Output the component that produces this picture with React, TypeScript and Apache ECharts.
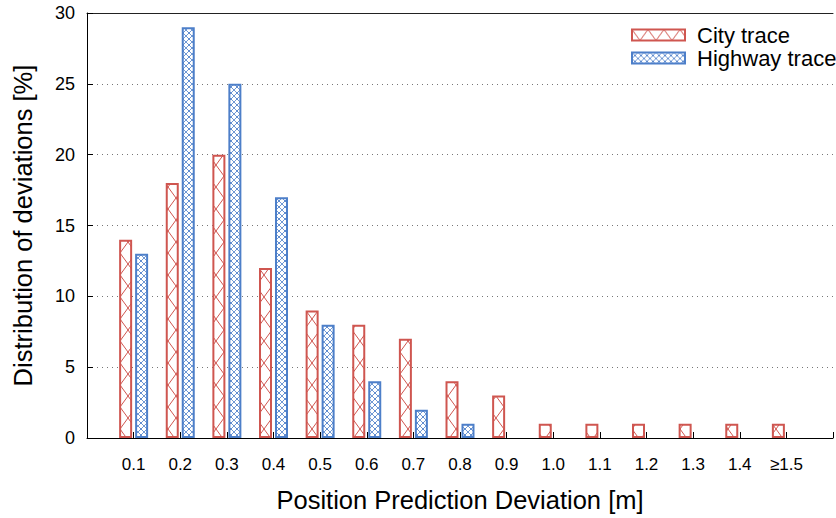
import React, { useEffect, useRef } from "react";
import * as echarts from "echarts";

const categories = ["0.1", "0.2", "0.3", "0.4", "0.5", "0.6", "0.7", "0.8", "0.9", "1.0", "1.1", "1.2", "1.3", "1.4", "≥1.5"];
const cityValues = [14, 18, 20, 12, 9, 8, 7, 4, 3, 1, 1, 1, 1, 1, 1];
const highwayValues = [13, 29, 25, 17, 8, 4, 2, 1, null, null, null, null, null, null, null];
const yTicks = [0, 5, 10, 15, 20, 25, 30];

const RED = "#cf5650";
const BLUE = "#4d7fc9";

function makePattern(color: string, w: number, h: number, lw: number, dots: boolean) {
  const c = document.createElement("canvas");
  c.width = w;
  c.height = h;
  const ctx = c.getContext("2d")!;
  ctx.fillStyle = "#ffffff";
  ctx.fillRect(0, 0, w, h);
  ctx.strokeStyle = color;
  ctx.lineWidth = lw;
  ctx.beginPath();
  for (let k = -1; k <= 1; k++) {
    ctx.moveTo(k * w, 0);
    ctx.lineTo(k * w + w, h);
    ctx.moveTo(k * w + w, 0);
    ctx.lineTo(k * w, h);
  }
  ctx.stroke();
  if (dots) {
    ctx.fillStyle = color;
    ctx.fillRect(w / 2 - 0.75, h / 2 - 0.75, 1.5, 1.5);
  }
  return c;
}

export default function App() {
  const ref = useRef<HTMLDivElement>(null);
  useEffect(() => {
    document.body.style.margin = "0";
    const chart = echarts.init(ref.current!, null, { renderer: "svg" });
    const redPat = makePattern(RED, 16, 22, 1, false);
    const bluePat = makePattern("rgba(77,127,201,0.8)", 6, 6, 1, true);
    const xData = ["", ...categories, ""];
    const pad = (a: (number | null)[]) => [null, ...a, null];
    const font = "Liberation Sans, Arial, sans-serif";
    chart.setOption({
      animation: false,
      backgroundColor: "#ffffff",
      grid: { left: 87, top: 13, width: 758, height: 425, containLabel: false },
      legend: {
        orient: "vertical",
        left: 626,
        top: 19,
        itemWidth: 53,
        itemHeight: 11,
        itemGap: 1,
        icon: "rect",
        textStyle: { fontFamily: font, fontSize: 22, color: "#000", lineHeight: 22, padding: [0, 0, 0, 7] },
        data: ["City trace", "Highway trace"],
      },
      xAxis: [
        {
          type: "category",
          data: xData,
          boundaryGap: false,
          axisLine: { show: true, lineStyle: { color: "#000", width: 1 } },
          axisTick: { show: true, inside: true, length: 6, lineStyle: { color: "#000" } },
          axisLabel: { fontFamily: font, fontSize: 17, color: "#000", margin: 18, interval: 0 },
          splitLine: { show: false },
          name: "Position Prediction Deviation [m]",
          nameLocation: "middle",
          nameGap: 49,
          nameTextStyle: { fontFamily: font, fontSize: 25.5, color: "#000" },
        },
        {
          type: "category",
          data: xData,
          boundaryGap: false,
          position: "top",
          axisLine: { show: true, lineStyle: { color: "#222", width: 1 } },
          axisTick: { show: false },
          axisLabel: { show: false },
        },
      ],
      yAxis: {
        type: "value",
        min: yTicks[0],
        max: yTicks[yTicks.length - 1],
        interval: 5,
        axisLine: { show: true, lineStyle: { color: "#000", width: 1 } },
        axisTick: { show: true, inside: true, length: 6, lineStyle: { color: "#000" } },
        axisLabel: { fontFamily: font, fontSize: 18, color: "#000", margin: 12 },
        splitLine: { show: true, lineStyle: { color: "#777", type: [1, 4], width: 1 } },
        name: "Distribution of deviations [%]",
        nameLocation: "middle",
        nameGap: 51,
        nameTextStyle: { fontFamily: font, fontSize: 25.5, color: "#000" },
      },
      series: [
        {
          name: "City trace",
          type: "bar",
          data: pad(cityValues),
          barWidth: 13,
          barGap: "23%",
          itemStyle: { color: { image: redPat, repeat: "repeat" }, borderColor: RED, borderWidth: 2 },
        },
        {
          name: "Highway trace",
          type: "bar",
          data: pad(highwayValues),
          barWidth: 13,
          barGap: "23%",
          itemStyle: { color: { image: bluePat, repeat: "repeat" }, borderColor: BLUE, borderWidth: 2 },
        },
      ],
    });
    return () => chart.dispose();
  }, []);
  return <div ref={ref} style={{ width: 836, height: 518 }} />;
}
